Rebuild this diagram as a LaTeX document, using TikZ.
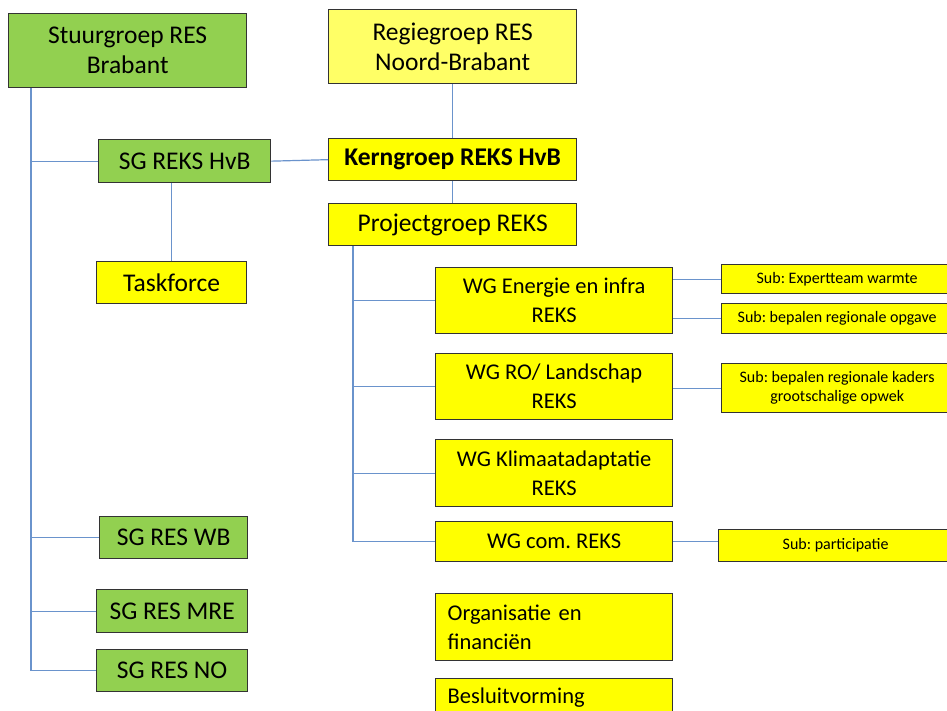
\documentclass[tikz,border=0pt]{standalone}
\usepackage{fontspec}
\setmainfont{Carlito}
\usetikzlibrary{calc}
\definecolor{grn}{HTML}{92D050}
\definecolor{ylw}{HTML}{FFFF00}
\definecolor{paleylw}{HTML}{FFFF66}
\definecolor{edge}{HTML}{333333}
\definecolor{conn}{HTML}{6A93CC}
\frenchspacing
\tikzset{
  bx/.style={draw=edge, line width=1.3pt, inner sep=0pt, anchor=north west, align=center},
  big/.style={font=\fontsize{25.5}{30}\selectfont},
  mid/.style={font=\fontsize{22.5}{29}\selectfont},
  small/.style={font=\fontsize{16}{19}\selectfont},
  gbox/.style={bx, fill=grn, big},
  ybox/.style={bx, fill=ylw},
  cn/.style={draw=conn, line width=1.2pt}
}
\begin{document}
\begin{tikzpicture}[x=1pt,y=-1pt]
\useasboundingbox (0,0) rectangle (947,710);
\clip (0,0) rectangle (947,710);
\fill[white] (0,0) rectangle (947,710);
% left column
\node[gbox, minimum width=238, minimum height=74] (stuur) at (8,13) {Stuurgroep RES\\Brabant};
\node[gbox, minimum width=172, minimum height=43] (sgreks) at (98,139) {SG REKS HvB};
\node[ybox, big, minimum width=150, minimum height=42] (task) at (96,261) {Taskforce};
\node[gbox, minimum width=148, minimum height=42] (sgwb) at (99,516) {SG RES WB};
\node[gbox, minimum width=151, minimum height=43] (sgmre) at (96,589) {SG RES MRE};
\node[gbox, minimum width=151, minimum height=42] (sgno) at (96,649) {SG RES NO};
% middle column
\node[bx, fill=paleylw, big, minimum width=248, minimum height=74] (regie) at (328,9) {Regiegroep RES\\Noord-Brabant};
\node[ybox, font=\fontsize{25.5}{30}\selectfont\bfseries, minimum width=248, minimum height=42] (kern) at (328,138) {Kerngroep REKS HvB};
\node[ybox, big, minimum width=248, minimum height=42] (proj) at (328,203) {Projectgroep REKS};
% working groups
\node[ybox, mid, minimum width=237, minimum height=66] (wge) at (435,267) {WG Energie en infra\\REKS};
\node[ybox, mid, minimum width=237, minimum height=66] (wgro) at (435,353) {WG RO/ Landschap\\REKS};
\node[ybox, mid, minimum width=237, minimum height=67] (wgk) at (435,439) {WG Klimaatadaptatie\\REKS};
\node[ybox, mid, minimum width=237, minimum height=40] (wgcom) at (435,521) {WG com. REKS};
\node[ybox, mid, align=left, text width=213, inner xsep=12pt, minimum height=67] (org) at (435,593) {Organisatie en\\financiën};
\node[ybox, mid, align=left, text width=213, inner xsep=12pt, minimum height=38] (besl) at (435,678) {Besluitvorming};
% sub groups
\node[ybox, small, minimum width=231, minimum height=29] (sub1) at (721,264) {Sub: Expertteam warmte};
\node[ybox, small, minimum width=231, minimum height=30] (sub2) at (721,303) {Sub: bepalen regionale opgave};
\node[ybox, small, minimum width=231, minimum height=49] (sub3) at (721,363) {Sub: bepalen regionale kaders\\grootschalige opwek};
\node[ybox, small, minimum width=234, minimum height=32] (sub4) at (718,529) {Sub: participatie};
% connectors left
\coordinate (trunk) at ($(stuur.south west)+(23,0)$);
\draw[cn] (trunk) |- (sgno.west);
\draw[cn] (trunk |- sgreks.west) -- (sgreks.west);
\draw[cn] (trunk |- sgwb.west) -- (sgwb.west);
\draw[cn] (trunk |- sgmre.west) -- (sgmre.west);
\draw[cn] (task.north) -- (task.north |- sgreks.south);
\draw[cn] (sgreks.east) -- (kern.west);
% connectors middle
\draw[cn] (regie.south) -- (kern.north);
\draw[cn] (kern.south) -- (proj.north);
\coordinate (ptrunk) at ($(proj.south west)+(25,0)$);
\draw[cn] (ptrunk) |- (wgcom.west);
\draw[cn] (ptrunk |- wge.west) -- (wge.west);
\draw[cn] (ptrunk |- wgro.west) -- (wgro.west);
\draw[cn] (ptrunk |- wgk.west) -- (wgk.west);
% connectors right
\draw[cn] (sub1.west) -- (sub1.west -| wge.east);
\draw[cn] (sub2.west) -- (sub2.west -| wge.east);
\draw[cn] (sub3.west) -- (sub3.west -| wgro.east);
\draw[cn] (wgcom.east) -- (wgcom.east -| sub4.west);
\end{tikzpicture}
\end{document}
